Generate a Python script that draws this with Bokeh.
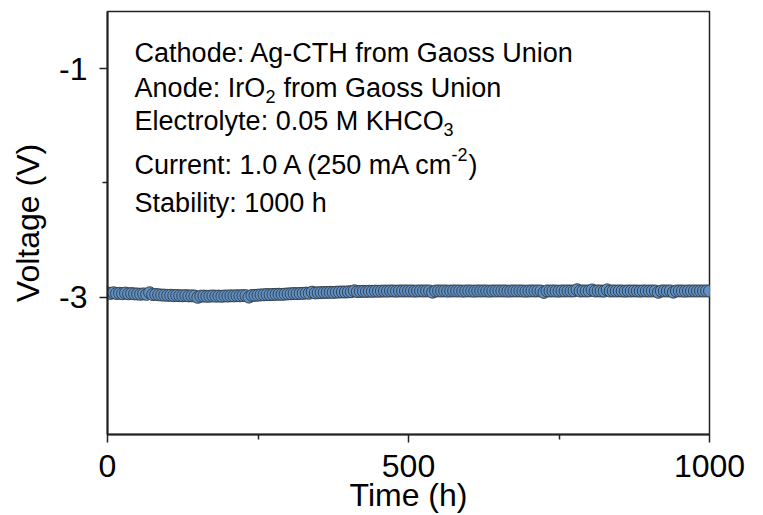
from bokeh.plotting import figure
from bokeh.models import FixedTicker, Label, Range1d, ColumnDataSource
from bokeh.embed import file_html
from bokeh.resources import INLINE

# ---- data ----
time_h = [
    0, 5, 10, 15, 20, 25, 30, 35, 40, 45,
    50, 55, 60, 65, 70, 75, 80, 85, 90, 95,
    100, 105, 110, 115, 120, 125, 130, 135, 140, 145,
    150, 155, 160, 165, 170, 175, 180, 185, 190, 195,
    200, 205, 210, 215, 220, 225, 230, 235, 240, 245,
    250, 255, 260, 265, 270, 275, 280, 285, 290, 295,
    300, 305, 310, 315, 320, 325, 330, 335, 340, 345,
    350, 355, 360, 365, 370, 375, 380, 385, 390, 395,
    400, 405, 410, 415, 420, 425, 430, 435, 440, 445,
    450, 455, 460, 465, 470, 475, 480, 485, 490, 495,
    500, 505, 510, 515, 520, 525, 530, 535, 540, 545,
    550, 555, 560, 565, 570, 575, 580, 585, 590, 595,
    600, 605, 610, 615, 620, 625, 630, 635, 640, 645,
    650, 655, 660, 665, 670, 675, 680, 685, 690, 695,
    700, 705, 710, 715, 720, 725, 730, 735, 740, 745,
    750, 755, 760, 765, 770, 775, 780, 785, 790, 795,
    800, 805, 810, 815, 820, 825, 830, 835, 840, 845,
    850, 855, 860, 865, 870, 875, 880, 885, 890, 895,
    900, 905, 910, 915, 920, 925, 930, 935, 940, 945,
    950, 955, 960, 965, 970, 975, 980, 985, 990, 995,
    1000,
]
voltage_v = [
    -2.962, -2.966, -2.960, -2.967, -2.965, -2.968, -2.963, -2.969, -2.967, -2.970,
    -2.971, -2.973, -2.970, -2.974, -2.960, -2.976, -2.975, -2.978, -2.980, -2.981,
    -2.983, -2.982, -2.985, -2.984, -2.986, -2.987, -2.985, -2.988, -2.987, -2.989,
    -3.000, -2.990, -2.989, -2.991, -2.990, -2.988, -2.990, -2.989, -2.991, -2.988,
    -2.989, -2.987, -2.988, -2.986, -2.987, -2.985, -2.986, -2.998, -2.984, -2.983,
    -2.981, -2.979, -2.978, -2.976, -2.977, -2.975, -2.974, -2.973, -2.974, -2.972,
    -2.970, -2.969, -2.967, -2.968, -2.966, -2.965, -2.963, -2.964, -2.955, -2.962,
    -2.960, -2.959, -2.958, -2.957, -2.956, -2.957, -2.955, -2.954, -2.953, -2.954,
    -2.952, -2.951, -2.943, -2.950, -2.949, -2.948, -2.949, -2.947, -2.948, -2.946,
    -2.947, -2.946, -2.945, -2.946, -2.944, -2.945, -2.946, -2.944, -2.945, -2.944,
    -2.945, -2.944, -2.946, -2.945, -2.944, -2.945, -2.944, -2.945, -2.955, -2.945,
    -2.944, -2.945, -2.944, -2.946, -2.945, -2.944, -2.945, -2.944, -2.946, -2.945,
    -2.944, -2.945, -2.946, -2.944, -2.945, -2.944, -2.945, -2.946, -2.944, -2.945,
    -2.944, -2.945, -2.944, -2.946, -2.945, -2.944, -2.945, -2.944, -2.945, -2.946,
    -2.945, -2.944, -2.945, -2.944, -2.945, -2.957, -2.944, -2.945, -2.944, -2.945,
    -2.946, -2.944, -2.945, -2.944, -2.945, -2.944, -2.934, -2.945, -2.944, -2.945,
    -2.944, -2.936, -2.945, -2.944, -2.945, -2.946, -2.935, -2.945, -2.944, -2.945,
    -2.944, -2.945, -2.946, -2.944, -2.945, -2.944, -2.945, -2.946, -2.944, -2.945,
    -2.945, -2.944, -2.945, -2.956, -2.945, -2.944, -2.945, -2.944, -2.955, -2.945,
    -2.944, -2.945, -2.946, -2.944, -2.945, -2.944, -2.945, -2.944, -2.945, -2.944,
    -2.945,
]
x_major_ticks = [0, 500, 1000]
x_minor_ticks = [250, 750]
y_major_ticks = [-3, -1]
y_major_labels = ["-3", "-1"]
y_minor_ticks = [-2]
x_title = "Time (h)"
y_title = "Voltage (V)"

FONT = "Liberation Sans"

p = figure(
    width=763, height=515,
    output_backend="svg", toolbar_location=None,
    x_range=Range1d(0, 1000), y_range=Range1d(-4.2, -0.5),
    min_border_left=107, min_border_right=54,
    min_border_top=11, min_border_bottom=81,
)
p.background_fill_color = "white"
p.border_fill_color = "white"
p.grid.visible = False
p.outline_line_color = "#222222"
p.outline_line_width = 1.5

src = ColumnDataSource(dict(t=time_h, v=voltage_v))
p.scatter("t", "v", source=src, size=12, marker="circle",
          fill_color="#5F91C6", line_color="#36424E", line_width=1)

p.xaxis.ticker = FixedTicker(ticks=x_major_ticks, minor_ticks=x_minor_ticks)
p.yaxis.ticker = FixedTicker(ticks=y_major_ticks, minor_ticks=y_minor_ticks)
p.yaxis.major_label_overrides = dict(zip(y_major_ticks, y_major_labels))
p.xaxis.axis_label = x_title
p.yaxis.axis_label = y_title

for ax in (p.xaxis, p.yaxis):
    ax.axis_line_color = "#222222"
    ax.axis_line_width = 2
    ax.major_tick_line_color = "#222222"
    ax.minor_tick_line_color = "#222222"
    ax.major_tick_line_width = 1.5
    ax.minor_tick_line_width = 1.5
    ax.major_tick_out = 8
    ax.major_tick_in = 0
    ax.minor_tick_out = 5
    ax.minor_tick_in = 0
    ax.major_label_text_font = FONT
    ax.major_label_text_font_size = "32px"
    ax.major_label_text_color = "black"
    ax.axis_label_text_font = FONT
    ax.axis_label_text_font_size = "32px"
    ax.axis_label_text_font_style = "normal"
    ax.axis_label_text_color = "black"

p.xaxis.major_label_standoff = 12
p.xaxis.axis_label_standoff = -3
p.yaxis.major_label_standoff = 12
p.yaxis.axis_label_standoff = 10

TX = 45
BIG = "27px"
SMALL = "18px"


def add(text, y, dx=0, dy=0, size=BIG):
    p.add_layout(Label(x=TX, y=y, x_offset=dx, y_offset=dy, text=text,
                       text_font=FONT, text_font_size=size,
                       text_color="black", text_align="left",
                       text_baseline="alphabetic"))


y1, y2, y3, y4, y5 = -0.867, -1.173, -1.462, -1.839, -2.171
add("Cathode: Ag-CTH from Gaoss Union", y1)
add("Anode: IrO", y2)
add("2", y2, dx=131, dy=-8, size=SMALL)
add("from Gaoss Union", y2, dx=149)
add("Electrolyte: 0.05 M KHCO", y3)
add("3", y3, dx=309, dy=-8, size=SMALL)
add("Current: 1.0 A (250 mA cm", y4)
add("-2", y4, dx=317, dy=10, size=SMALL)
add(")", y4, dx=334)
add("Stability: 1000 h", y5)

open("out.html", "w").write(file_html(p, INLINE))
